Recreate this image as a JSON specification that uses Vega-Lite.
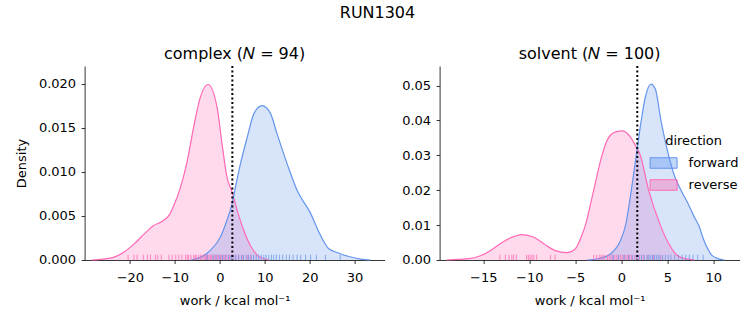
{
  "$schema": "https://vega.github.io/schema/vega-lite/v6.json",
  "padding": {"left": 14.6, "top": 5, "right": 5, "bottom": 5},
  "config": {
    "font": "DejaVu Sans",
    "view": {"stroke": null},
    "axis": {
      "grid": false,
      "domainColor": "#000000",
      "domainWidth": 0.8,
      "tickColor": "#000000",
      "tickWidth": 0.8,
      "tickSize": 3.5,
      "tickCount": 12,
      "labelFontSize": 13,
      "labelColor": "#000000",
      "labelPadding": 4.5,
      "labelOverlap": false,
      "titleFontSize": 13,
      "titleFontWeight": "normal",
      "titleColor": "#000000"
    },
    "axisX": {"titlePadding": 10, "labelPadding": 8.5},
    "axisY": {"labelPadding": 5.5},
    "title": {"fontSize": 16, "fontWeight": "normal", "color": "#000000"}
  },
  "title": {"text": "RUN1304", "anchor": "middle", "offset": 24.5},
  "datasets": {
    "complex_kde": [
      {"direction": "reverse", "work": -28.5, "density": 0},
      {"direction": "reverse", "work": -26.0, "density": 0.0001},
      {"direction": "reverse", "work": -23.6, "density": 0.0003},
      {"direction": "reverse", "work": -21.3, "density": 0.0009},
      {"direction": "reverse", "work": -19.1, "density": 0.0018},
      {"direction": "reverse", "work": -16.9, "density": 0.0029},
      {"direction": "reverse", "work": -14.7, "density": 0.0039},
      {"direction": "reverse", "work": -12.8, "density": 0.0044},
      {"direction": "reverse", "work": -11.1, "density": 0.0052},
      {"direction": "reverse", "work": -10.2, "density": 0.0062},
      {"direction": "reverse", "work": -8.7, "density": 0.0083},
      {"direction": "reverse", "work": -7.2, "density": 0.0113},
      {"direction": "reverse", "work": -5.8, "density": 0.0151},
      {"direction": "reverse", "work": -4.3, "density": 0.0185},
      {"direction": "reverse", "work": -2.6, "density": 0.0199},
      {"direction": "reverse", "work": -0.6, "density": 0.0173},
      {"direction": "reverse", "work": 0.5, "density": 0.0132},
      {"direction": "reverse", "work": 1.6, "density": 0.0094},
      {"direction": "reverse", "work": 2.75, "density": 0.0077},
      {"direction": "reverse", "work": 3.9, "density": 0.0056},
      {"direction": "reverse", "work": 5.3, "density": 0.0034},
      {"direction": "reverse", "work": 7.2, "density": 0.0013},
      {"direction": "reverse", "work": 9.0, "density": 0.0003},
      {"direction": "reverse", "work": 11.0, "density": 0},
      {"direction": "forward", "work": -6.5, "density": 0},
      {"direction": "forward", "work": -4.3, "density": 0.0003},
      {"direction": "forward", "work": -2.1, "density": 0.0011},
      {"direction": "forward", "work": 0.15, "density": 0.0026},
      {"direction": "forward", "work": 1.6, "density": 0.0045},
      {"direction": "forward", "work": 2.75, "density": 0.0064},
      {"direction": "forward", "work": 3.5, "density": 0.0083},
      {"direction": "forward", "work": 4.6, "density": 0.0109},
      {"direction": "forward", "work": 6.1, "density": 0.0139},
      {"direction": "forward", "work": 7.6, "density": 0.0166},
      {"direction": "forward", "work": 9.4, "density": 0.0175},
      {"direction": "forward", "work": 11.3, "density": 0.0166},
      {"direction": "forward", "work": 12.75, "density": 0.0143},
      {"direction": "forward", "work": 15.0, "density": 0.0109},
      {"direction": "forward", "work": 17.2, "density": 0.0079},
      {"direction": "forward", "work": 20.1, "density": 0.0054},
      {"direction": "forward", "work": 22.4, "density": 0.0028},
      {"direction": "forward", "work": 24.2, "density": 0.0013},
      {"direction": "forward", "work": 26.4, "density": 0.0008},
      {"direction": "forward", "work": 28.7, "density": 0.0004},
      {"direction": "forward", "work": 31.3, "density": 0.0001},
      {"direction": "forward", "work": 33.5, "density": 0}
    ],
    "complex_rug": [
      {"direction": "reverse", "work": -20.4}, {"direction": "reverse", "work": -19.1}, {"direction": "reverse", "work": -18.4},
      {"direction": "reverse", "work": -17.0}, {"direction": "reverse", "work": -16.1}, {"direction": "reverse", "work": -15.4},
      {"direction": "reverse", "work": -14.3}, {"direction": "reverse", "work": -13.8}, {"direction": "reverse", "work": -13.0},
      {"direction": "reverse", "work": -11.3}, {"direction": "reverse", "work": -10.6}, {"direction": "reverse", "work": -9.8},
      {"direction": "reverse", "work": -9.1}, {"direction": "reverse", "work": -8.4}, {"direction": "reverse", "work": -7.6},
      {"direction": "reverse", "work": -7.2}, {"direction": "reverse", "work": -6.9}, {"direction": "reverse", "work": -6.4},
      {"direction": "reverse", "work": -5.8}, {"direction": "reverse", "work": -5.5}, {"direction": "reverse", "work": -5.2},
      {"direction": "reverse", "work": -4.7}, {"direction": "reverse", "work": -4.3}, {"direction": "reverse", "work": -3.9},
      {"direction": "reverse", "work": -3.5}, {"direction": "reverse", "work": -3.2}, {"direction": "reverse", "work": -2.9},
      {"direction": "reverse", "work": -2.7}, {"direction": "reverse", "work": -2.4}, {"direction": "reverse", "work": -2.1},
      {"direction": "reverse", "work": -1.8}, {"direction": "reverse", "work": -1.3}, {"direction": "reverse", "work": -1.0},
      {"direction": "reverse", "work": -0.6}, {"direction": "reverse", "work": -0.3}, {"direction": "reverse", "work": 0.2},
      {"direction": "reverse", "work": 0.5}, {"direction": "reverse", "work": 0.9}, {"direction": "reverse", "work": 1.3},
      {"direction": "reverse", "work": 1.6}, {"direction": "reverse", "work": 2.2}, {"direction": "reverse", "work": 2.7},
      {"direction": "reverse", "work": 3.5}, {"direction": "reverse", "work": 4.2}, {"direction": "reverse", "work": 5.0},
      {"direction": "reverse", "work": 6.1}, {"direction": "reverse", "work": 6.8},
      {"direction": "forward", "work": -2.8}, {"direction": "forward", "work": -1.5}, {"direction": "forward", "work": -0.8},
      {"direction": "forward", "work": 0.0}, {"direction": "forward", "work": 0.6}, {"direction": "forward", "work": 1.2},
      {"direction": "forward", "work": 1.9}, {"direction": "forward", "work": 2.5}, {"direction": "forward", "work": 3.1},
      {"direction": "forward", "work": 3.6}, {"direction": "forward", "work": 4.2}, {"direction": "forward", "work": 4.8},
      {"direction": "forward", "work": 5.3}, {"direction": "forward", "work": 5.9}, {"direction": "forward", "work": 6.4},
      {"direction": "forward", "work": 7.0}, {"direction": "forward", "work": 7.5}, {"direction": "forward", "work": 8.1},
      {"direction": "forward", "work": 8.6}, {"direction": "forward", "work": 9.2}, {"direction": "forward", "work": 9.8},
      {"direction": "forward", "work": 10.3}, {"direction": "forward", "work": 10.9}, {"direction": "forward", "work": 11.5},
      {"direction": "forward", "work": 12.0}, {"direction": "forward", "work": 12.6}, {"direction": "forward", "work": 13.3},
      {"direction": "forward", "work": 14.0}, {"direction": "forward", "work": 14.8}, {"direction": "forward", "work": 15.5},
      {"direction": "forward", "work": 16.3}, {"direction": "forward", "work": 17.2}, {"direction": "forward", "work": 18.0},
      {"direction": "forward", "work": 19.1}, {"direction": "forward", "work": 20.2}, {"direction": "forward", "work": 21.5},
      {"direction": "forward", "work": 23.5}, {"direction": "forward", "work": 26.8}
    ],
    "complex_ref": [{"work": 2.8}],
    "solvent_kde": [
      {"direction": "reverse", "work": -19.0, "density": 0},
      {"direction": "reverse", "work": -16.8, "density": 0.0003},
      {"direction": "reverse", "work": -15.3, "density": 0.0012},
      {"direction": "reverse", "work": -14.2, "density": 0.0027},
      {"direction": "reverse", "work": -13.2, "density": 0.0046},
      {"direction": "reverse", "work": -12.1, "density": 0.0063},
      {"direction": "reverse", "work": -10.8, "density": 0.0073},
      {"direction": "reverse", "work": -9.5, "density": 0.0065},
      {"direction": "reverse", "work": -8.4, "density": 0.0046},
      {"direction": "reverse", "work": -7.2, "density": 0.0027},
      {"direction": "reverse", "work": -5.9, "density": 0.0021},
      {"direction": "reverse", "work": -5.0, "density": 0.0032},
      {"direction": "reverse", "work": -4.3, "density": 0.0070},
      {"direction": "reverse", "work": -3.9, "density": 0.0100},
      {"direction": "reverse", "work": -3.0, "density": 0.0200},
      {"direction": "reverse", "work": -2.1, "density": 0.0300},
      {"direction": "reverse", "work": -1.4, "density": 0.0350},
      {"direction": "reverse", "work": -0.6, "density": 0.0367},
      {"direction": "reverse", "work": 0.2, "density": 0.0370},
      {"direction": "reverse", "work": 1.0, "density": 0.0352},
      {"direction": "reverse", "work": 1.6, "density": 0.0325},
      {"direction": "reverse", "work": 2.07, "density": 0.0300},
      {"direction": "reverse", "work": 2.97, "density": 0.0200},
      {"direction": "reverse", "work": 4.24, "density": 0.0100},
      {"direction": "reverse", "work": 5.2, "density": 0.0045},
      {"direction": "reverse", "work": 6.0, "density": 0.0015},
      {"direction": "reverse", "work": 7.0, "density": 0.0003},
      {"direction": "reverse", "work": 8.0, "density": 0},
      {"direction": "forward", "work": -3.7, "density": 0},
      {"direction": "forward", "work": -2.3, "density": 0.0005},
      {"direction": "forward", "work": -1.2, "density": 0.0017},
      {"direction": "forward", "work": -0.1, "density": 0.0055},
      {"direction": "forward", "work": 0.47, "density": 0.0100},
      {"direction": "forward", "work": 1.09, "density": 0.0200},
      {"direction": "forward", "work": 1.63, "density": 0.0300},
      {"direction": "forward", "work": 2.17, "density": 0.0400},
      {"direction": "forward", "work": 2.6, "density": 0.0465},
      {"direction": "forward", "work": 3.22, "density": 0.0504},
      {"direction": "forward", "work": 3.7, "density": 0.0490},
      {"direction": "forward", "work": 4.31, "density": 0.0400},
      {"direction": "forward", "work": 5.14, "density": 0.0300},
      {"direction": "forward", "work": 5.8, "density": 0.0240},
      {"direction": "forward", "work": 6.49, "density": 0.0200},
      {"direction": "forward", "work": 7.2, "density": 0.0165},
      {"direction": "forward", "work": 7.9, "density": 0.0125},
      {"direction": "forward", "work": 8.4, "density": 0.0100},
      {"direction": "forward", "work": 9.0, "density": 0.0055},
      {"direction": "forward", "work": 9.86, "density": 0.0013},
      {"direction": "forward", "work": 10.5, "density": 0.0004},
      {"direction": "forward", "work": 11.2, "density": 0}
    ],
    "solvent_rug": [
      {"direction": "reverse", "work": -13.2}, {"direction": "reverse", "work": -12.6}, {"direction": "reverse", "work": -12.2},
      {"direction": "reverse", "work": -11.9}, {"direction": "reverse", "work": -11.7}, {"direction": "reverse", "work": -11.4},
      {"direction": "reverse", "work": -10.3}, {"direction": "reverse", "work": -10.1}, {"direction": "reverse", "work": -9.9},
      {"direction": "reverse", "work": -9.7}, {"direction": "reverse", "work": -9.5}, {"direction": "reverse", "work": -9.2},
      {"direction": "reverse", "work": -7.7}, {"direction": "reverse", "work": -7.2}, {"direction": "reverse", "work": -3.0},
      {"direction": "reverse", "work": -2.7}, {"direction": "reverse", "work": -2.4}, {"direction": "reverse", "work": -2.2},
      {"direction": "reverse", "work": -2.0}, {"direction": "reverse", "work": -1.8}, {"direction": "reverse", "work": -1.5},
      {"direction": "reverse", "work": -1.3}, {"direction": "reverse", "work": -1.1}, {"direction": "reverse", "work": -0.9},
      {"direction": "reverse", "work": -0.7}, {"direction": "reverse", "work": -0.5}, {"direction": "reverse", "work": -0.3},
      {"direction": "reverse", "work": -0.1}, {"direction": "reverse", "work": 0.1}, {"direction": "reverse", "work": 0.3},
      {"direction": "reverse", "work": 0.5}, {"direction": "reverse", "work": 0.7}, {"direction": "reverse", "work": 0.9},
      {"direction": "reverse", "work": 1.1}, {"direction": "reverse", "work": 1.4}, {"direction": "reverse", "work": 1.7},
      {"direction": "reverse", "work": 2.0}, {"direction": "reverse", "work": 2.4}, {"direction": "reverse", "work": 2.9},
      {"direction": "reverse", "work": 3.5}, {"direction": "reverse", "work": 4.3},
      {"direction": "forward", "work": -0.9}, {"direction": "forward", "work": -0.3}, {"direction": "forward", "work": 0.3},
      {"direction": "forward", "work": 0.8}, {"direction": "forward", "work": 1.2}, {"direction": "forward", "work": 1.6},
      {"direction": "forward", "work": 1.9}, {"direction": "forward", "work": 2.2}, {"direction": "forward", "work": 2.5},
      {"direction": "forward", "work": 2.8}, {"direction": "forward", "work": 3.0}, {"direction": "forward", "work": 3.2},
      {"direction": "forward", "work": 3.4}, {"direction": "forward", "work": 3.6}, {"direction": "forward", "work": 3.8},
      {"direction": "forward", "work": 4.0}, {"direction": "forward", "work": 4.2}, {"direction": "forward", "work": 4.5},
      {"direction": "forward", "work": 4.8}, {"direction": "forward", "work": 5.1}, {"direction": "forward", "work": 5.4},
      {"direction": "forward", "work": 5.8}, {"direction": "forward", "work": 6.2}, {"direction": "forward", "work": 6.6},
      {"direction": "forward", "work": 7.0}, {"direction": "forward", "work": 7.4}, {"direction": "forward", "work": 7.8},
      {"direction": "forward", "work": 8.3}, {"direction": "forward", "work": 8.9}
    ],
    "solvent_ref": [{"work": 1.74}]
  },
  "resolve": {"scale": {"fill": "independent", "stroke": "independent", "x": "independent", "y": "independent"}, "legend": {"fill": "independent", "stroke": "independent"}},
  "spacing": 17,
  "hconcat": [
    {
      "width": 300,
      "height": 194,
      "title": {"text": "complex (𝑁 = 94)", "offset": 3.5},
      "layer": [
        {
          "data": {"name": "complex_kde"},
          "mark": {"type": "area", "interpolate": "monotone", "fillOpacity": 0.25},
          "encoding": {
            "x": {"field": "work", "type": "quantitative", "scale": {"domain": [-30.07, 36.67], "nice": false, "zero": false},
                  "axis": {"values": [-20, -10, 0, 10, 20, 30], "tickCount": 12, "format": "d", "labelExpr": "replace(datum.label, '-', '−')", "title": "work / kcal mol⁻¹"}},
            "y": {"field": "density", "type": "quantitative", "stack": null, "scale": {"domain": [0, 0.022], "nice": false},
                  "axis": {"values": [0, 0.005, 0.01, 0.015, 0.02], "tickCount": 12, "format": ".3f", "title": "Density", "titlePadding": 10}},
            "fill": {"field": "direction", "type": "nominal", "scale": {"domain": ["forward", "reverse"], "range": ["#6495ED", "#FF69B4"]}, "legend": null}
          }
        },
        {
          "data": {"name": "complex_kde"},
          "mark": {"type": "line", "interpolate": "monotone", "strokeWidth": 1.2},
          "encoding": {
            "x": {"field": "work", "type": "quantitative"},
            "y": {"field": "density", "type": "quantitative"},
            "stroke": {"field": "direction", "type": "nominal", "scale": {"domain": ["forward", "reverse"], "range": ["#6495ED", "#FF69B4"]}, "legend": null}
          }
        },
        {
          "data": {"name": "complex_rug"},
          "mark": {"type": "rule", "strokeWidth": 1, "opacity": 0.75},
          "encoding": {
            "x": {"field": "work", "type": "quantitative"},
            "y": {"datum": 0},
            "y2": {"datum": 0.0006},
            "stroke": {"field": "direction", "type": "nominal", "legend": null}
          }
        },
        {
          "data": {"name": "complex_ref"},
          "mark": {"type": "rule", "color": "#000000", "strokeWidth": 2, "strokeDash": [2, 2.5]},
          "encoding": {"x": {"field": "work", "type": "quantitative"}}
        }
      ]
    },
    {
      "width": 300,
      "height": 194,
      "title": {"text": "solvent (𝑁 = 100)", "offset": 3.5},
      "layer": [
        {
          "data": {"name": "solvent_kde"},
          "mark": {"type": "area", "interpolate": "monotone", "fillOpacity": 0.25},
          "encoding": {
            "x": {"field": "work", "type": "quantitative", "scale": {"domain": [-19.75, 12.86], "nice": false, "zero": false},
                  "axis": {"values": [-15, -10, -5, 0, 5, 10], "tickCount": 12, "format": "d", "labelExpr": "replace(datum.label, '-', '−')", "title": "work / kcal mol⁻¹"}},
            "y": {"field": "density", "type": "quantitative", "stack": null, "scale": {"domain": [0, 0.0556], "nice": false},
                  "axis": {"values": [0, 0.01, 0.02, 0.03, 0.04, 0.05], "tickCount": 12, "format": ".2f", "title": null}},
            "fill": {"field": "direction", "type": "nominal", "scale": {"domain": ["forward", "reverse"], "range": ["#6495ED", "#FF69B4"]},
                     "legend": {"orient": "none", "legendX": 210, "legendY": 69, "title": "direction", "padding": 0,
                                "titleFontSize": 13, "titleFontWeight": "normal", "titleColor": "#000000", "titleAnchor": "middle", "titlePadding": 1,
                                "labelFontSize": 13, "labelColor": "#000000", "labelOffset": 11, "rowPadding": -3,
                                "symbolType": "M-1,-0.39H1V0.39H-1Z", "symbolSize": 729, "symbolStrokeWidth": 1, "symbolOpacity": 1,
                                "encode": {"symbols": {"update": {"fillOpacity": {"value": 0.4}, "strokeOpacity": {"value": 1}}}}}}
          }
        },
        {
          "data": {"name": "solvent_kde"},
          "mark": {"type": "line", "interpolate": "monotone", "strokeWidth": 1.2},
          "encoding": {
            "x": {"field": "work", "type": "quantitative"},
            "y": {"field": "density", "type": "quantitative"},
            "stroke": {"field": "direction", "type": "nominal", "scale": {"domain": ["forward", "reverse"], "range": ["#6495ED", "#FF69B4"]},
                       "legend": {"orient": "none", "legendX": 210, "legendY": 69, "title": "direction"}}
          }
        },
        {
          "data": {"name": "solvent_rug"},
          "mark": {"type": "rule", "strokeWidth": 1, "opacity": 0.75},
          "encoding": {
            "x": {"field": "work", "type": "quantitative"},
            "y": {"datum": 0},
            "y2": {"datum": 0.0015},
            "stroke": {"field": "direction", "type": "nominal"}
          }
        },
        {
          "data": {"name": "solvent_ref"},
          "mark": {"type": "rule", "color": "#000000", "strokeWidth": 2, "strokeDash": [2, 2.5]},
          "encoding": {"x": {"field": "work", "type": "quantitative"}}
        }
      ]
    }
  ]
}
